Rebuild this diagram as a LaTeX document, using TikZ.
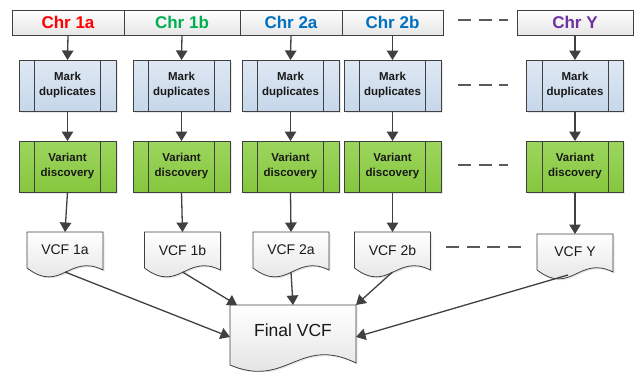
\documentclass[tikz,border=0pt]{standalone}
\usepackage{fontspec}
\setmainfont{Liberation Sans}
\usetikzlibrary{arrows.meta,calc,shadows,backgrounds}

\definecolor{edge}{HTML}{404040}
\definecolor{dashgray}{HTML}{5A5A5A}
\definecolor{mdtop}{HTML}{DFE8F3}
\definecolor{mdbot}{HTML}{C5D7EA}
\definecolor{vdtop}{HTML}{9CD65E}
\definecolor{vdbot}{HTML}{86C63E}
\definecolor{cred}{HTML}{FF0000}
\definecolor{cgreen}{HTML}{00B050}
\definecolor{cblue}{HTML}{0070C0}
\definecolor{cpurple}{HTML}{7030A0}

% document symbol with a wavy lower edge:
% #1 node, #2 left drop, #3/#4 control offsets, #5 right drop
\newcommand\docoutline[5]{%
  \draw[docfill] ($(#1.south west)+(0,#2)$)
    .. controls ($(#1.south west)!0.45!(#1.south east)+(0,#3)$)
            and ($(#1.south west)!0.55!(#1.south east)+(0,#4)$)
    .. ($(#1.south east)+(0,#5)$) -- (#1.north east) -- (#1.north west) -- cycle;}

\begin{document}
\begin{tikzpicture}[x=1pt,y=-1pt,
  hdr/.style={draw=edge, line width=0.8pt, top color=white, bottom color=black!10,
    minimum height=25, inner sep=0, outer sep=0,
    font=\bfseries\fontsize{17}{20}\selectfont},
  proc/.style={draw=edge, line width=0.9pt, minimum width=97, minimum height=51,
    inner sep=0, outer sep=0, align=center, text=black!90,
    font=\bfseries\fontsize{11.5}{15}\selectfont,
    drop shadow={opacity=0.18, shadow xshift=1.5pt, shadow yshift=-1.5pt}},
  mdbox/.style={proc, top color=mdtop, bottom color=mdbot},
  vdbox/.style={proc, top color=vdtop, bottom color=vdbot},
  doc/.style={minimum width=76, minimum height=36, inner sep=0, outer sep=0,
    text=black!90, font=\fontsize{14}{16}\selectfont},
  docfill/.style={draw=edge, line width=0.8pt, top color=white, bottom color=black!13,
    drop shadow={opacity=0.18, shadow xshift=1.5pt, shadow yshift=-1.5pt}},
  flow/.style={draw=edge, line width=1.3pt, -{Triangle[length=9.5pt,width=11.5pt]}},
  ellips/.style={draw=dashgray, line width=1.5pt, dash pattern=on 13pt off 7.5pt},
  sideline/.style={draw=edge, line width=0.9pt}]

\useasboundingbox (0,0) rectangle (637,372);

% chromosome header bar
\node[hdr, minimum width=112, text=cred]    (h1a) at (68,22.5)    {Chr 1a};
\node[hdr, minimum width=116, text=cgreen]  (h1b) at (182,22.5)   {Chr 1b};
\node[hdr, minimum width=102, text=cblue]   (h2a) at (291,22.5)   {Chr 2a};
\node[hdr, minimum width=101, text=cblue]   (h2b) at (392.5,22.5) {Chr 2b};
\node[hdr, minimum width=116, text=cpurple] (hY)  at (575,22.5)   {Chr Y};

% processing steps per chromosome
\foreach \c/\x in {1a/67.5,1b/181.5,2a/290.5,2b/392.5,Y/575}{
  \node[mdbox] (md\c) at (\x,85.5)  {Mark\\duplicates};
  \node[vdbox] (vd\c) at (\x,166.5) {Variant\\discovery};
  \draw[sideline] ($(md\c.north west)+(15.5,0)$) -- ($(md\c.south west)+(15.5,0)$);
  \draw[sideline] ($(md\c.north east)+(-15.5,0)$) -- ($(md\c.south east)+(-15.5,0)$);
  \draw[sideline] ($(vd\c.north west)+(15.5,0)$) -- ($(vd\c.south west)+(15.5,0)$);
  \draw[sideline] ($(vd\c.north east)+(-15.5,0)$) -- ($(vd\c.south east)+(-15.5,0)$);
}

% per-chromosome VCF files and the merged result
\node[doc] (vcf1a) at (65,250)    {VCF 1a};
\node[doc] (vcf1b) at (182.5,250) {VCF 1b};
\node[doc] (vcf2a) at (291,250)   {VCF 2a};
\node[doc] (vcf2b) at (392.5,250) {VCF 2b};
\node[doc] (vcfY)  at (575,252)   {VCF Y};
\node[doc, minimum width=126, minimum height=50, font=\fontsize{17.5}{20}\selectfont]
  (final) at (293,330) {Final VCF};

\begin{scope}[on background layer]
  \foreach \n in {vcf1a,vcf1b,vcf2a,vcf2b,vcfY}{\docoutline{\n}{0}{26}{-15}{2}}
  \docoutline{final}{10}{34}{-20}{8}
\end{scope}

% flow
\foreach \c in {1a,1b,2a,2b,Y}{
  \draw[flow] (h\c.south) -- (md\c.north);
  \draw[flow] (md\c.south) -- (vd\c.north);
  \draw[flow] (vd\c.south) -- (vcf\c.north);
}
\draw[flow] ($(vcf1a.south)+(0,4)$) -- ($(final.west)+(0,7)$);
\draw[flow] ($(vcf1b.south)+(0,4)$) -- ($(final.north west)+(7,0)$);
\draw[flow] ($(vcf2a.south)+(0,4)$) -- (final.north);
\draw[flow] ($(vcf2b.south)+(0,4)$) -- (final.north east);
\draw[flow] ($(vcfY.south)+(-7,5)$) -- ($(final.east)+(0,7)$);

% continuation marks towards the last chromosome
\coordinate (eh1) at ($(h2b.east)+(15,-2.5)$);  \coordinate (eh2) at ($(hY.west)+(-9,-2.5)$);
\coordinate (em1) at ($(md2b.east)+(17,-0.5)$); \coordinate (em2) at ($(mdY.west)+(-19,-0.5)$);
\coordinate (ev1) at ($(vd2b.east)+(17,-1.5)$); \coordinate (ev2) at ($(vdY.west)+(-19,-1.5)$);
\coordinate (ef1) at ($(vcf2b.east)+(15.5,-3)$); \coordinate (ef2) at ($(vcfY.west)+(-15,-5)$);
\draw[ellips] (eh1) -- (eh2);
\draw[ellips] (em1) -- (em2);
\draw[ellips] (ev1) -- (ev2);
\draw[ellips] (ef1) -- (ef2);
\end{tikzpicture}
\end{document}
